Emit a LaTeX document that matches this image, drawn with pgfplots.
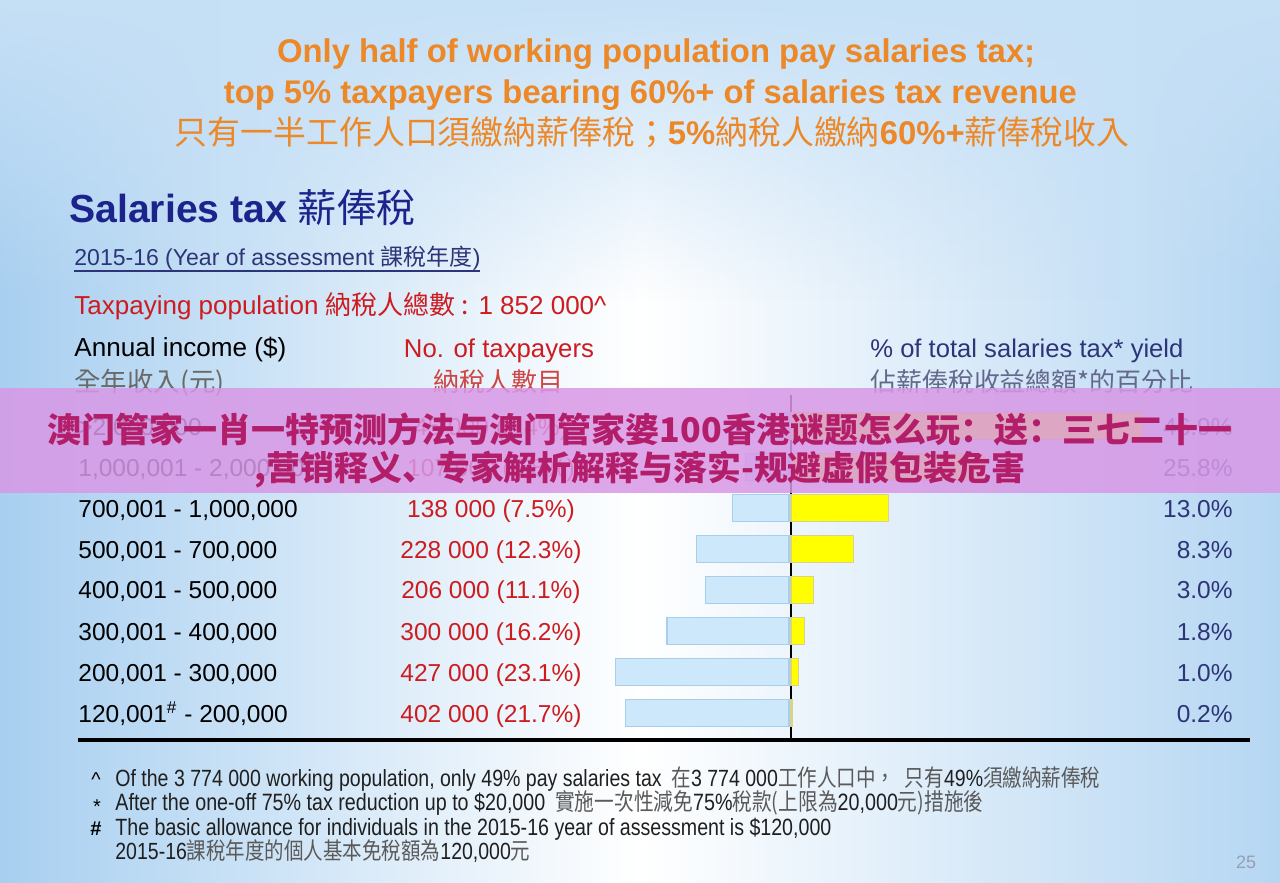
\documentclass[border=0pt]{standalone}
\usepackage{pgfplots}
\pgfplotsset{compat=1.18}
\usepackage{pgfplotstable}
\usepackage{graphicx}
\usepackage{fontspec}
\setmainfont{Liberation Sans}
\newfontfamily\cjk{Noto Sans CJK TC}
\newfontfamily\cjksc{Noto Sans CJK SC}
\usetikzlibrary{fadings}

\definecolor{orangeT}{RGB}{236,136,40}
\definecolor{navy}{RGB}{28,36,140}
\definecolor{dblue}{RGB}{45,52,120}
\definecolor{redT}{RGB}{205,28,32}
\definecolor{redL}{RGB}{205,70,70}
\definecolor{barblue}{RGB}{205,232,250}
\definecolor{barblueE}{RGB}{168,206,234}
\definecolor{barY}{RGB}{255,255,0}
\definecolor{barYE}{RGB}{215,210,140}
\definecolor{banner}{RGB}{216,152,230}
\definecolor{bannerT}{RGB}{178,30,105}
\definecolor{bgedge}{RGB}{168,207,240}
\definecolor{bgtop}{RGB}{198,224,246}
\definecolor{grayT}{RGB}{105,105,105}
\definecolor{grayB}{RGB}{100,104,140}
\definecolor{fnc}{RGB}{90,90,90}
\definecolor{pnum}{RGB}{150,160,178}

\pgfplotstableread{
k n y
7 45 46.9
6 107 25.8
5 138 13.0
4 228 8.3
3 206 3.0
2 300 1.8
1 427 1.0
0 402 0.2
}\taxdata

\newcommand\fw[2]{\resizebox{#1pt}{!}{#2}}
\newcommand\fwt[2]{\resizebox{#1pt}{!}{\scalebox{1}[1.2]{#2}}}
\newcommand\fc[1]{{\cjk\color{fnc}#1}}

\begin{document}
\begin{tikzpicture}[x=0.5pt,y=-0.5pt]
\useasboundingbox (0,0) rectangle (1280,883);
% background
\fill[bgtop] (0,0) rectangle (1280,883);
\shade[left color=bgedge, right color=bgedge!85!white, middle color=white] (0,0) rectangle (1280,883);
\fill[bgtop, path fading=south] (0,0) rectangle (1280,300);

% title
\node[anchor=base, text=orangeT, font=\bfseries] at (656,62.5) {\fw{379}{Only half of working population pay salaries tax;}};
\node[anchor=base, text=orangeT, font=\bfseries] at (650.5,103.5) {\fw{426.5}{top 5\% taxpayers bearing 60\%+ of salaries tax revenue}};
\node[anchor=base, text=orangeT] at (652,144) {\fw{477}{{\cjk 只有一半工作人口須繳納薪俸稅；}{\bfseries 5\%}{\cjk 納稅人繳納}{\bfseries 60\%+}{\cjk 薪俸稅收入}}};

% headings
\node[anchor=base west, text=navy, inner sep=0pt] at (69,222) {\fw{173}{{\bfseries Salaries tax} {\cjk 薪俸稅}}};
\node[anchor=base west, text=dblue, inner sep=0pt] at (74,265) {\fw{203}{2015-16 (Year of assessment {\cjk 課稅年度})}};
\draw[dblue, line width=0.8pt] (74,271) -- (480,271);
\node[anchor=base west, text=redT, inner sep=0pt] at (74,314) {\fw{266}{Taxpaying population {\cjk 納稅人總數 :} 1 852 000\textasciicircum}};

\node[anchor=base west, text=black, inner sep=0pt] at (74,356) {\fw{106}{Annual income (\$)}};
\node[anchor=base west, text=grayT, inner sep=0pt] at (74,391) {\fw{75}{\cjk 全年收入(元)}};
\node[anchor=base, text=redT, inner sep=0pt] at (499,357) {\fw{95}{No. of taxpayers}};
\node[anchor=base, text=redL, inner sep=0pt] at (498,391) {\fw{65}{\cjk 納稅人數目}};
\node[anchor=base west, text=dblue, inner sep=0pt] at (870,357) {\fw{156.5}{\% of total salaries tax* yield}};
\node[anchor=base west, text=grayB, inner sep=0pt] at (870,391) {\fw{161.5}{\cjk 佔薪俸稅收益總額*的百分比}};

% rows
\begin{scope}[every node/.style={inner sep=0pt, font=\fontsize{12.25pt}{14pt}\selectfont}]
\node[anchor=base west] at (78,435) {>2,000,000};
\node[anchor=base west] at (78,476) {1,000,001 - 2,000,000};
\node[anchor=base west] at (78,517) {700,001 - 1,000,000};
\node[anchor=base west] at (78,558) {500,001 - 700,000};
\node[anchor=base west] at (78,598) {400,001 - 500,000};
\node[anchor=base west] at (78,640) {300,001 - 400,000};
\node[anchor=base west] at (78,681) {200,001 - 300,000};
\node[anchor=base west] at (78,722) {120,001\textsuperscript{\#} - 200,000};
\node[anchor=base, text=redT] at (491,435) {45 000 (2.4\%)};
\node[anchor=base, text=redT] at (491,476) {107 000 (5.8\%)};
\node[anchor=base, text=redT] at (491,517) {138 000 (7.5\%)};
\node[anchor=base, text=redT] at (491,558) {228 000 (12.3\%)};
\node[anchor=base, text=redT] at (491,598) {206 000 (11.1\%)};
\node[anchor=base, text=redT] at (491,640) {300 000 (16.2\%)};
\node[anchor=base, text=redT] at (491,681) {427 000 (23.1\%)};
\node[anchor=base, text=redT] at (491,722) {402 000 (21.7\%)};
\node[anchor=base east, text=dblue] at (1233,435) {46.9\%};
\node[anchor=base east, text=dblue] at (1233,476) {25.8\%};
\node[anchor=base east, text=dblue] at (1233,517) {13.0\%};
\node[anchor=base east, text=dblue] at (1233,558) {8.3\%};
\node[anchor=base east, text=dblue] at (1233,598) {3.0\%};
\node[anchor=base east, text=dblue] at (1233,640) {1.8\%};
\node[anchor=base east, text=dblue] at (1233,681) {1.0\%};
\node[anchor=base east, text=dblue] at (1233,722) {0.2\%};
\end{scope}

\coordinate (L0) at (789,740);
\coordinate (R0) at (791,740);
% left bars: number of taxpayers (thousands)
\begin{axis}[at={(L0)}, anchor=south east, scale only axis,
  width=101.75pt, height=172.5pt, xmin=0, xmax=500, x dir=reverse,
  ymin=-0.6585, ymax=7.756, xbar, bar width=13.5pt, axis lines=none,
  xtick=\empty, ytick=\empty, clip=false]
\addplot[fill=barblue, draw=barblueE, line width=0.6pt] table[x=n, y=k] {\taxdata};
\end{axis}
% right bars: % of salaries tax yield
\begin{axis}[at={(R0)}, anchor=south west, scale only axis,
  width=187.5pt, height=172.5pt, xmin=0, xmax=50,
  ymin=-0.6585, ymax=7.756, xbar, bar width=13.5pt,
  axis x line=none, axis y line=left, y axis line style={black, line width=1.4pt, -},
  xtick=\empty, ytick=\empty, clip=false]
\addplot[fill=barY, draw=barYE, line width=0.6pt] table[x=y, y=k] {\taxdata};
\end{axis}
\draw[black, line width=2pt] (78,740) -- (1250,740);

% footnotes
\begin{scope}[every node/.style={inner sep=0pt, font=\fontsize{10pt}{12pt}\selectfont}]
\node[anchor=base] at (96,786) {\textasciicircum};
\node[anchor=base] at (97,813) {*};
\node[anchor=base] at (96,835) {\bfseries\#};
\end{scope}
\node[anchor=base west, inner sep=0pt, text=black!88] at (115,786) {\fwt{492.5}{Of the 3 774 000 working population, only 49\% pay salaries tax\enspace\fc{在}3 774 000\fc{工作人口中，\enspace{}只有}49\%\fc{須繳納薪俸稅}}};
\node[anchor=base west, inner sep=0pt, text=black!88] at (115,810) {\fwt{434}{After the one-off 75\% tax reduction up to \$20,000\enspace\fc{實施一次性減免}75\%\fc{稅款(上限為}20,000\fc{元)措施後}}};
\node[anchor=base west, inner sep=0pt, text=black!88] at (115,835) {\fwt{358}{The basic allowance for individuals in the 2015-16 year of assessment is \$120,000}};
\node[anchor=base west, inner sep=0pt, text=black!88] at (115,859) {\fwt{207.5}{2015-16\fc{課稅年度的個人基本免稅額為}120,000\fc{元}}};
\node[text=pnum, font=\fontsize{9pt}{10pt}\selectfont] at (1246,862) {25};

% overlay banner
\fill[banner, opacity=0.85] (0,388) rectangle (1280,493);
\node[anchor=base, text=bannerT, inner sep=0pt] at (640,442) {\fw{592}{\cjksc\bfseries 澳门管家一肖一特预测方法与澳门管家婆100香港谜题怎么玩：送：三七二十一}};
\node[anchor=base, text=bannerT, inner sep=0pt] at (640,480) {\fw{385}{\cjksc\bfseries ,营销释义、专家解析解释与落实-规避虚假包装危害}};
\end{tikzpicture}
\end{document}
